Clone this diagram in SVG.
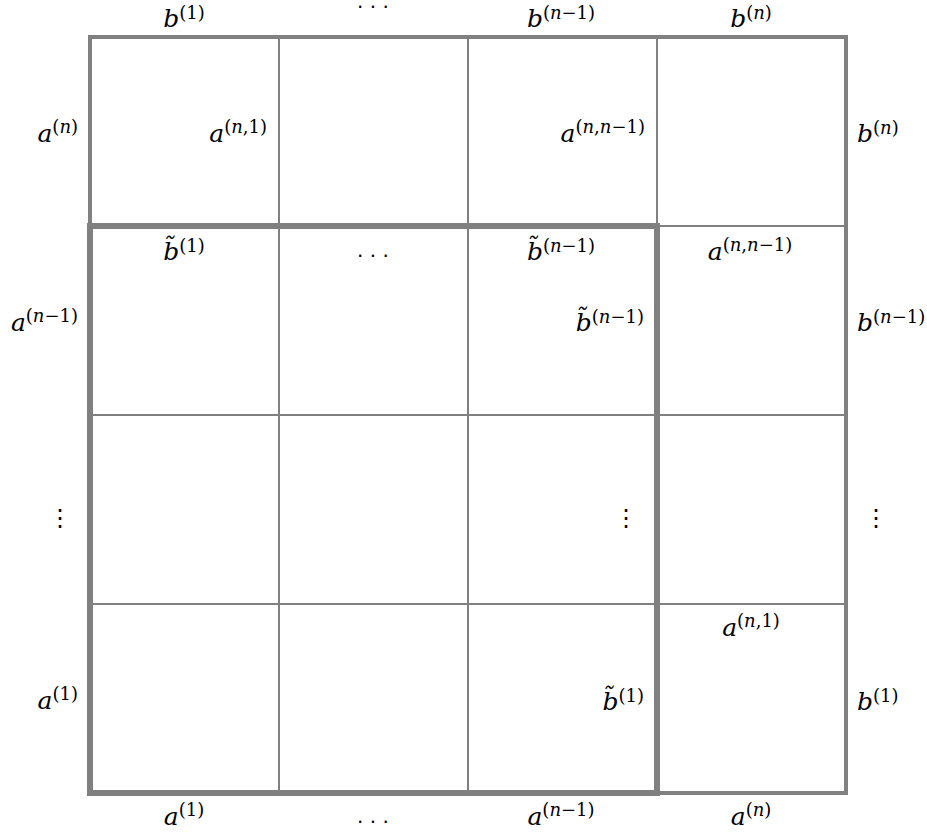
<svg xmlns="http://www.w3.org/2000/svg" width="927" height="835" viewBox="0 0 927 835">
<style>
.thin{stroke:#808080;stroke-width:2;fill:none}
.outer{stroke:#808080;stroke-width:4;fill:none}
.inner{stroke:#808080;stroke-width:6;fill:none}
text{font-family:"DejaVu Serif",serif;font-size:25px;fill:#000}
.v{font-style:italic}
.s{font-size:18px}
.i{font-style:italic}
.dots{font-family:"DejaVu Sans",sans-serif;font-size:20px}
.vdots{font-family:"DejaVu Sans",sans-serif;font-size:24px}
</style>
<rect width="927" height="835" fill="#fff"/>
<g id="grid">
<line class="thin" x1="279" y1="37" x2="279" y2="793"/>
<line class="thin" x1="468" y1="37" x2="468" y2="793"/>
<line class="thin" x1="657" y1="37" x2="657" y2="793"/>
<line class="thin" x1="90" y1="226" x2="846" y2="226"/>
<line class="thin" x1="90" y1="415" x2="846" y2="415"/>
<line class="thin" x1="90" y1="604" x2="846" y2="604"/>
<rect class="outer" x="90" y="37" width="756" height="756"/>
<rect class="inner" x="90" y="226" width="567" height="567"/>
</g>
<g id="top-labels">
<text x="184" y="27" text-anchor="middle"><tspan class="v">b</tspan><tspan class="s" dy="-8">(1)</tspan></text>
<text class="dots" x="373" y="14" text-anchor="middle">· · ·</text>
<text x="561" y="27" text-anchor="middle"><tspan class="v">b</tspan><tspan class="s" dy="-8">(<tspan class="i">n</tspan>−1)</tspan></text>
<text x="751" y="27" text-anchor="middle"><tspan class="v">b</tspan><tspan class="s" dy="-8">(<tspan class="i">n</tspan>)</tspan></text>
</g>
<g id="row1">
<text x="78" y="142" text-anchor="end"><tspan class="v">a</tspan><tspan class="s" dy="-9">(<tspan class="i">n</tspan>)</tspan></text>
<text x="267" y="142" text-anchor="end"><tspan class="v">a</tspan><tspan class="s" dy="-9">(<tspan class="i">n</tspan>,1)</tspan></text>
<text x="645" y="142" text-anchor="end"><tspan class="v">a</tspan><tspan class="s" dy="-9">(<tspan class="i">n</tspan>,<tspan class="i">n</tspan>−1)</tspan></text>
<text x="857" y="142"><tspan class="v">b</tspan><tspan class="s" dy="-8">(<tspan class="i">n</tspan>)</tspan></text>
</g>
<g id="row2">
<text x="184" y="260" text-anchor="middle"><tspan class="v">b̃</tspan><tspan class="s" dy="-8">(1)</tspan></text>
<text class="dots" x="373" y="263" text-anchor="middle">· · ·</text>
<text x="561" y="260" text-anchor="middle"><tspan class="v">b̃</tspan><tspan class="s" dy="-8">(<tspan class="i">n</tspan>−1)</tspan></text>
<text x="750" y="260" text-anchor="middle"><tspan class="v">a</tspan><tspan class="s" dy="-9">(<tspan class="i">n</tspan>,<tspan class="i">n</tspan>−1)</tspan></text>
<text x="78" y="331" text-anchor="end"><tspan class="v">a</tspan><tspan class="s" dy="-9">(<tspan class="i">n</tspan>−1)</tspan></text>
<text x="644" y="331" text-anchor="end"><tspan class="v">b̃</tspan><tspan class="s" dy="-8">(<tspan class="i">n</tspan>−1)</tspan></text>
<text x="857" y="331"><tspan class="v">b</tspan><tspan class="s" dy="-8">(<tspan class="i">n</tspan>−1)</tspan></text>
</g>
<g id="row3">
<text class="vdots" x="60" y="526" text-anchor="middle">⋮</text>
<text class="vdots" x="626" y="526" text-anchor="middle">⋮</text>
<text class="vdots" x="876" y="526" text-anchor="middle">⋮</text>
</g>
<g id="row4">
<text x="751" y="636" text-anchor="middle"><tspan class="v">a</tspan><tspan class="s" dy="-9">(<tspan class="i">n</tspan>,1)</tspan></text>
<text x="78" y="709" text-anchor="end"><tspan class="v">a</tspan><tspan class="s" dy="-9">(1)</tspan></text>
<text x="644" y="710" text-anchor="end"><tspan class="v">b̃</tspan><tspan class="s" dy="-8">(1)</tspan></text>
<text x="857" y="710"><tspan class="v">b</tspan><tspan class="s" dy="-8">(1)</tspan></text>
</g>
<g id="bottom-labels">
<text x="184" y="825" text-anchor="middle"><tspan class="v">a</tspan><tspan class="s" dy="-9">(1)</tspan></text>
<text class="dots" x="373" y="829" text-anchor="middle">· · ·</text>
<text x="561" y="825" text-anchor="middle"><tspan class="v">a</tspan><tspan class="s" dy="-9">(<tspan class="i">n</tspan>−1)</tspan></text>
<text x="751" y="825" text-anchor="middle"><tspan class="v">a</tspan><tspan class="s" dy="-9">(<tspan class="i">n</tspan>)</tspan></text>
</g>
</svg>
